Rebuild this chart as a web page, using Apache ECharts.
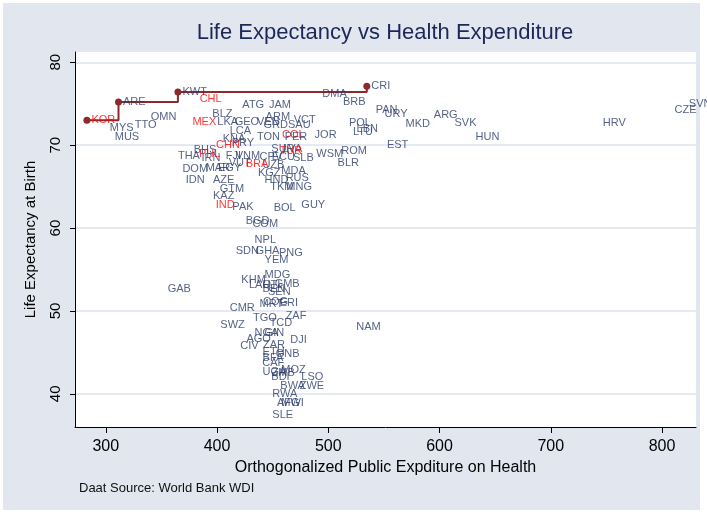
<!DOCTYPE html>
<html>
<head>
<meta charset="utf-8">
<script src="https://cdn.jsdelivr.net/npm/echarts@6/dist/echarts.min.js"></script>
<style>
html, body { margin: 0; padding: 0; background: #fff; }
#chart { width: 707px; height: 514px; }
</style>
</head>
<body>
<div id="chart"></div>
<script>
// countries, orthogonalized public health expenditure, life expectancy
var countries = ['MYS','MUS','TTO','OMN','GAB','THA','DOM','IDN','MEX','BHS','PHL','CHL','IRN','MAR','BLZ','AZE','KAZ','IND','CHN','LKA',
	'EGY','GTM','SWZ','KNA','FJI','VUT','LCA','CMR','PRY','PAK','GEO','SDN','VNM','CIV','KHM','ATG','BRA','BGD','AGO','LAO',
	'COM','TGO','NPL','NGA','GHA','VEN','TON','KGZ','CPV','MRT','UZB','CAF','HTI','BEN','ETH','BFA','UGA','COG','ZAR','GRD',
	'HND','YEM','MDG','GIN','ARM','SEN','JAM','TCD','TKM','SUR','BDI','ECU','ZMB','RWA','SLE','BOL','GMB','GNB','AFG','PNG',
	'TUR','ERI','BWA','MDA','MOZ','MWI','COL','LVA','PER','ZAF','RUS','MNG','SAU','DJI','SLB','VCT','ZWE','GUY','LSO','JOR',
	'WSM','DMA','BLR','ROM','BRB','POL','LTU','NAM','LBN','PAN','URY','EST','MKD','ARG','SVK','HUN','HRV','CZE','SVN'];
var expenditure = [299.5,304.0,321.9,336.3,351.6,360.8,364.8,367.7,373.8,374.9,379.7,380.3,381.9,385.7,391.7,392.3,392.3,394.7,395.0,396.2,
	396.8,398.3,398.9,401.0,403.7,406.4,407.3,407.3,409.1,409.7,411.8,412.7,412.7,416.9,417.8,418.7,421.7,421.7,422.3,424.6,
	427.7,428.2,429.7,429.7,430.6,431.8,431.8,432.7,434.2,434.2,436.7,436.6,436.9,436.9,436.9,436.9,436.9,437.2,437.2,437.8,
	438.7,438.7,438.7,438.7,439.6,441.7,442.6,443.2,443.8,444.7,444.7,445.0,445.0,445.6,445.6,446.8,447.7,448.6,449.8,451.6,
	452.2,452.2,452.8,453.7,453.7,453.7,454.3,455.2,456.7,457.6,457.6,458.2,459.7,461.8,464.2,464.8,470.2,471.7,471.7,483.6,
	485.2,490.6,504.3,507.6,509.1,514.5,518.1,521.1,521.4,538.5,546.5,548.6,565.4,590.8,609.4,628.3,742.7,807.1,820.0];
var lifeExp = [72.1,71.0,72.4,73.4,52.7,68.7,67.1,65.8,72.8,69.4,68.9,75.6,68.5,67.3,73.8,65.8,63.9,62.8,70.0,72.8,
	67.3,64.7,48.3,70.7,68.7,67.8,71.7,50.3,70.3,62.6,72.8,57.2,68.7,45.8,53.7,74.8,67.7,60.9,46.6,53.1,
	60.5,49.1,58.6,47.3,57.2,72.8,71.0,66.6,68.6,50.8,67.6,43.7,53.1,52.7,45.1,44.3,42.6,51.1,45.9,72.4,
	65.8,56.2,54.4,47.3,73.4,52.3,74.8,48.5,65.0,69.6,42.0,68.6,42.5,40.0,37.5,62.4,53.3,44.8,38.9,57.0,
	69.3,51.0,41.0,66.9,42.9,38.9,71.2,69.6,71.0,49.4,66.0,64.9,72.4,46.5,68.4,73.0,41.0,62.8,42.0,71.2,
	68.9,76.2,67.9,69.3,75.2,72.7,71.6,48.1,72.0,74.3,73.8,70.0,72.6,73.6,72.7,71.0,72.7,74.2,75.0];

// frontier
var frontierNames = ['KOR','ARE','KWT','CRI'];
var frontierX = [283.0, 311.4, 364.8, 534.6];
var frontierY = [73.0, 75.2, 76.4, 77.1];

var highlighted = ['KOR','CHL','MEX','CHN','PHL','BRA','IND','COL','TUR'];

var xTicks = [300, 400, 500, 600, 700, 800];
var yTicks = [40, 50, 60, 70, 80];

var navyData = [];
var redData = [];
function addPoint(name, x, y) {
	if (highlighted.indexOf(name) >= 0) redData.push([x, y, name]);
	else navyData.push([x, y, name]);
}
for (var i = 0; i < countries.length; i++) {
	addPoint(countries[i], expenditure[i], lifeExp[i]);
}
var frontierData = [];
for (var i = 0; i < frontierNames.length; i++) {
	addPoint(frontierNames[i], frontierX[i], frontierY[i]);
	frontierData.push([frontierX[i], frontierY[i]]);
}

function labelSeries(data, color) {
	return {
		type: 'scatter',
		data: data,
		symbol: 'circle',
		symbolSize: 1,
		itemStyle: { color: 'rgba(0,0,0,0)' },
		silent: true,
		z: 3,
		label: {
			show: true,
			position: 'right',
			distance: 4,
			formatter: function (p) { return p.value[2]; },
			color: color,
			fontFamily: 'Liberation Sans',
			fontSize: 11
		}
	};
}

var font = 'Liberation Sans';
var option = {
	animation: false,
	backgroundColor: '#ffffff',
	graphic: [
		{ type: 'rect', shape: { x: 3, y: 3, width: 697, height: 507 }, style: { fill: '#e1e6ef' }, z: -10 },
		{ type: 'text', x: 385, y: 33, style: { text: 'Life Expectancy vs Health Expenditure', fill: '#1c2858',
			font: '22px "Liberation Sans"', textAlign: 'center', textVerticalAlign: 'middle' } },
		{ type: 'text', x: 79, y: 488, style: { text: 'Daat Source: World Bank WDI', fill: '#111111',
			font: '13px "Liberation Sans"', textAlign: 'left', textVerticalAlign: 'middle' } }
	],
	grid: {
		left: 75, right: 11, top: 52, bottom: 87,
		show: true, backgroundColor: '#ffffff', borderWidth: 0,
		outerBoundsMode: 'none'
	},
	xAxis: {
		type: 'value',
		min: 272.3, max: 830.5,
		name: 'Orthogonalized Public Expditure on Health',
		nameLocation: 'middle',
		nameGap: 29,
		nameTextStyle: { color: '#000', fontFamily: font, fontSize: 16 },
		axisLine: { show: true, onZero: false, lineStyle: { color: '#000', width: 1 } },
		axisTick: { show: true, length: 6, customValues: xTicks, lineStyle: { color: '#000' } },
		axisLabel: { customValues: xTicks, margin: 12, color: '#000', fontFamily: font, fontSize: 16 },
		splitLine: { show: false }
	},
	yAxis: {
		type: 'value',
		min: 36.0, max: 81.24,
		name: 'Life Expectancy at Birth',
		nameLocation: 'middle',
		nameGap: 37,
		nameRotate: 90,
		nameTextStyle: { color: '#000', fontFamily: font, fontSize: 15 },
		axisLine: { show: true, onZero: false, lineStyle: { color: '#000', width: 1 } },
		axisTick: { show: true, length: 5, customValues: yTicks, lineStyle: { color: '#000' } },
		axisLabel: { customValues: yTicks, rotate: 90, margin: 12, color: '#000', fontFamily: font, fontSize: 15 },
		splitLine: { show: true, lineStyle: { color: '#dce3ee', width: 1.5 } }
	},
	series: [
		{
			type: 'line',
			data: frontierData,
			step: 'end',
			symbol: 'circle',
			symbolSize: 7,
			showAllSymbol: true,
			lineStyle: { color: '#8b2a2a', width: 2 },
			itemStyle: { color: '#8b2a2a' },
			silent: true,
			z: 2
		},
		labelSeries(navyData, '#283a68'),
		labelSeries(redData, '#ff0000')
	]
};

var myChart = echarts.init(document.getElementById('chart'));
myChart.setOption(option);
</script>
</body>
</html>
